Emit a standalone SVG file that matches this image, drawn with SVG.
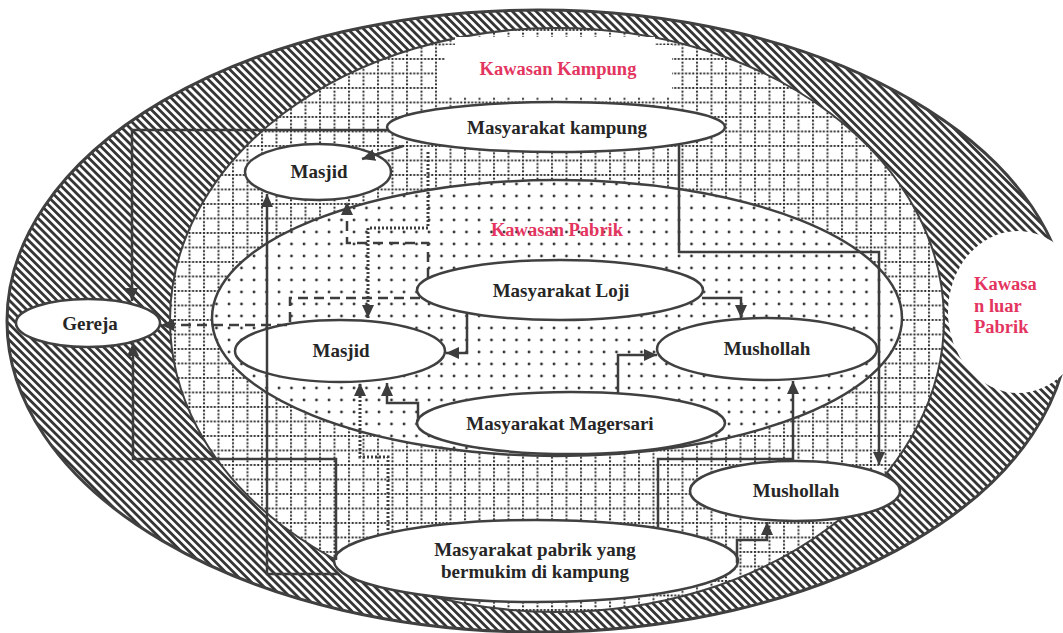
<svg xmlns="http://www.w3.org/2000/svg" width="1063" height="633" viewBox="0 0 1063 633">
<defs>
<pattern id="hatch" width="5.6" height="10" patternUnits="userSpaceOnUse" patternTransform="rotate(-45)">
<rect width="5.6" height="10" fill="#fff"/>
<rect width="2.8" height="10" fill="#363636"/>
</pattern>
<pattern id="grid" width="14.5" height="14.5" patternUnits="userSpaceOnUse">
<rect width="14.5" height="14.5" fill="#fff"/>
<line x1="0" y1="1" x2="14.5" y2="1" stroke="#2e2e2e" stroke-width="2" stroke-dasharray="2 1.6"/>
<line x1="1" y1="0" x2="1" y2="14.5" stroke="#2e2e2e" stroke-width="2" stroke-dasharray="2 1.6"/>
</pattern>
<pattern id="dots" width="12.5" height="12" patternUnits="userSpaceOnUse">
<rect width="12.5" height="12" fill="#fff"/>
<circle cx="4" cy="4" r="1.4" fill="#333"/>
</pattern>
<marker id="ah" viewBox="0 0 13 12" refX="13" refY="6" markerWidth="13" markerHeight="12" markerUnits="userSpaceOnUse" orient="auto">
<path d="M0,0 L13,6 L0,12 z" fill="#3d3d3d"/>
</marker>
</defs>
<style>
.node{fill:#fff;stroke:#404040;stroke-width:2.5}
.lbl{font-family:"Liberation Serif","Times New Roman",serif;font-weight:bold;font-size:19px;fill:#262626;text-anchor:middle}
.area{font-family:"Liberation Serif","Times New Roman",serif;font-weight:bold;font-size:18.5px;fill:#e3355f}
.c{fill:none;stroke:#3d3d3d;stroke-width:2.5;marker-end:url(#ah)}
.dash{stroke-dasharray:10 6}
.dot{stroke-width:3;stroke-dasharray:2 2}
</style>
<rect width="1063" height="633" fill="#fff"/>
<g id="zone-luar">
<ellipse cx="538" cy="321" rx="531" ry="311" fill="url(#hatch)" stroke="#404040" stroke-width="3"/>
</g>
<g id="zone-kampung">
<ellipse cx="557" cy="320" rx="387" ry="292" fill="url(#grid)" stroke="#404040" stroke-width="2"/>
<path d="M455,37 L655,37 L655,45 L672,45 L672,97 L437,97 L437,62 L445,62 L445,45 L455,45 Z" fill="#fff"/>
<text class="area" x="558" y="75" text-anchor="middle">Kawasan Kampung</text>
</g>
<g id="zone-pabrik">
<ellipse cx="557" cy="318" rx="345" ry="138" fill="url(#dots)" stroke="#404040" stroke-width="2.5"/>
<text class="area" x="557" y="236" text-anchor="middle">Kawasan Pabrik</text>
</g>
<g id="zone-luar-pabrik">
<ellipse cx="1018" cy="312" rx="70" ry="81" fill="#fff"/>
<text class="area" x="974" y="290">Kawasa</text>
<text class="area" x="974" y="312">n luar</text>
<text class="area" x="974" y="333">Pabrik</text>
</g>
<g id="n-kampung"><ellipse class="node" cx="556" cy="127" rx="169" ry="25"/><text class="lbl" x="557" y="134">Masyarakat kampung</text></g>
<g id="n-masjid-top"><ellipse class="node" cx="318" cy="172" rx="73" ry="28"/><text class="lbl" x="319" y="178">Masjid</text></g>
<g id="n-gereja"><ellipse class="node" cx="88" cy="323" rx="72" ry="24"/><text class="lbl" x="90" y="330">Gereja</text></g>
<g id="n-loji"><ellipse class="node" cx="560" cy="290" rx="143" ry="30"/><text class="lbl" x="561" y="297">Masyarakat Loji</text></g>
<g id="n-masjid-mid"><ellipse class="node" cx="340" cy="351" rx="105" ry="31"/><text class="lbl" x="341" y="357">Masjid</text></g>
<g id="n-magersari"><ellipse class="node" cx="571" cy="423" rx="154" ry="31"/><text class="lbl" x="560" y="430">Masyarakat Magersari</text></g>
<g id="n-mushollah-up"><ellipse class="node" cx="767" cy="349" rx="110" ry="31"/><text class="lbl" x="767" y="355">Mushollah</text></g>
<g id="n-mushollah-low"><ellipse class="node" cx="795" cy="491" rx="105" ry="30"/><text class="lbl" x="796" y="497">Mushollah</text></g>
<g id="n-pabrik-kampung"><ellipse class="node" cx="536" cy="561" rx="202" ry="41"/><text class="lbl" x="535" y="556">Masyarakat pabrik yang</text><text class="lbl" x="535" y="578">bermukim di kampung</text></g>
<g id="connectors">
<path class="c" d="M388,130 L132,130 L132,301"/>
<path class="c" d="M403,146 L362,159"/>
<path class="c dot" d="M428,152 L428,228 L368,228 L368,318"/>
<path class="c dash" d="M428,278 L428,243 L347,243 L347,202"/>
<path class="c dash" d="M420,298 L290,298 L290,325 L161,325"/>
<path class="c" d="M467,313 L467,353 L446,353"/>
<path class="c" d="M702,298 L741,298 L741,318"/>
<path class="c" d="M679,144 L679,252 L879,252 L879,465"/>
<path class="c" d="M618,393 L618,355 L657,355"/>
<path class="c" d="M418,421 L418,403 L387,403 L387,383"/>
<path class="c dot" d="M388,530 L388,457 L360,457 L360,383"/>
<path class="c" d="M336,560 L336,459 L133,459 L133,343"/>
<path class="c" d="M338,574 L267,574 L267,194"/>
<path class="c" d="M658,527 L658,459 L793,459 L793,381"/>
<path class="c" d="M737,563 L737,540 L767,540 L767,522"/>
</g>
</svg>
